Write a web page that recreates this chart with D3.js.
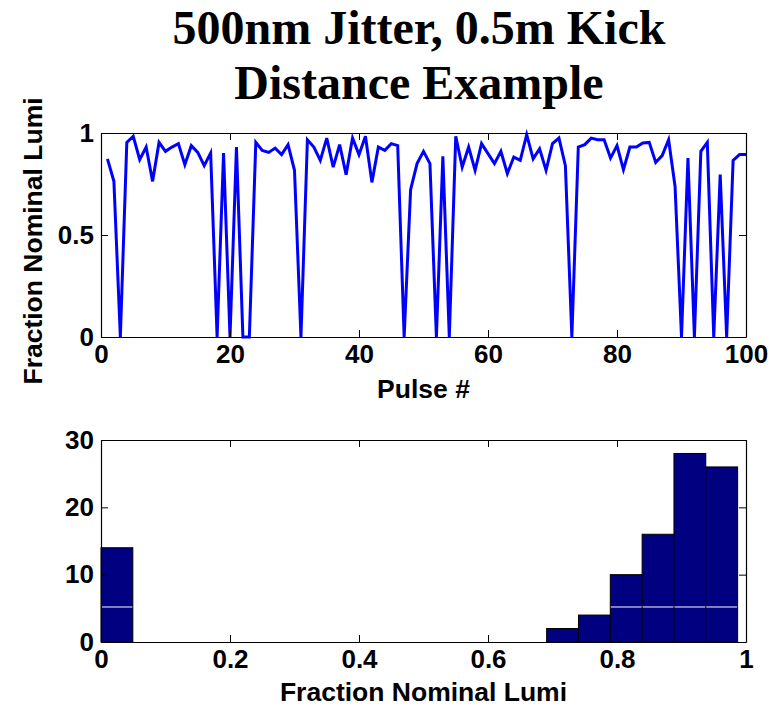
<!DOCTYPE html>
<html>
<head>
<meta charset="utf-8">
<script src="https://cdn.jsdelivr.net/npm/d3@7"></script>
<style>
  body { margin: 0; background: #fff; }
  .tick text { font-family: "Liberation Sans", Arial, sans-serif; font-weight: bold; font-size: 26px; fill: #000; }
  .axisText { font-family: "Liberation Sans", Arial, sans-serif; font-weight: bold; font-size: 26.5px; }
</style>
</head>
<body>
<div id="chart"></div>
<script>
// Pulse-by-pulse lumi (fraction of nominal)
var pulses = d3.range(1, 101);
var lumi = [
  0.873, 0.763, 0.000, 0.954, 0.984, 0.869, 0.931, 0.763, 0.954, 0.910,
  0.931, 0.948, 0.845, 0.938, 0.905, 0.840, 0.902, 0.000, 0.902, 0.000,
  0.931, 0.000, 0.000, 0.954, 0.915, 0.905, 0.926, 0.894, 0.943, 0.817,
  0.000, 0.967, 0.931, 0.866, 0.975, 0.833, 0.943, 0.796, 0.975, 0.894,
  0.984, 0.758, 0.931, 0.915, 0.948, 0.938, 0.000, 0.722, 0.850, 0.910,
  0.850, 0.000, 0.886, 0.000, 0.984, 0.833, 0.931, 0.817, 0.948, 0.899,
  0.850, 0.910, 0.801, 0.882, 0.866, 0.992, 0.873, 0.922, 0.817, 0.948,
  0.975, 0.840, 0.000, 0.931, 0.943, 0.975, 0.967, 0.967, 0.877, 0.938,
  0.820, 0.931, 0.931, 0.951, 0.954, 0.856, 0.889, 0.967, 0.739, 0.000,
  0.877, 0.000, 0.910, 0.954, 0.000, 0.796, 0.000, 0.866, 0.894, 0.894
];

// Histogram of the same values: 20 bins between 0 and the max
var histCounts = [14, 0, 0, 0, 0, 0, 0, 0, 0, 0, 0, 0, 0, 0, 2, 4, 10, 16, 28, 26];
var histRange = [0, 0.987];

var topXTicks = [0, 20, 40, 60, 80, 100];
var topYTicks = [0, 0.5, 1];
var botXTicks = [0, 0.2, 0.4, 0.6, 0.8, 1];
var botYTicks = [0, 10, 20, 30];

var titleLines = ["500nm Jitter, 0.5m Kick", "Distance Example"];

var W = 780, H = 709;
var svg = d3.select("#chart").append("svg")
    .attr("width", W)
    .attr("height", H);

var left = 101, right = 746;
var tickLen = 7;

// title
svg.append("g").selectAll("text")
    .data(titleLines)
    .join("text")
    .attr("x", 419)
    .attr("y", function (d, i) { return 44 + i * 55; })
    .attr("text-anchor", "middle")
    .style("font-family", "'Liberation Serif', 'Times New Roman', serif")
    .style("font-weight", "bold")
    .style("font-size", "48px")
    .text(function (d) { return d; });

function drawFrame(g, x, y, xTicks, yTicks, top, bottom) {
    g.append("g")
        .attr("transform", "translate(0," + bottom + ")")
        .call(d3.axisBottom(x).tickValues(xTicks).tickSize(-tickLen).tickSizeOuter(0).tickPadding(8)
            .tickFormat(function (d) { return d; }));
    g.append("g")
        .attr("transform", "translate(0," + top + ")")
        .call(d3.axisTop(x).tickValues(xTicks).tickSize(-tickLen).tickSizeOuter(0).tickFormat(""));
    g.append("g")
        .attr("transform", "translate(" + left + ",0)")
        .call(d3.axisLeft(y).tickValues(yTicks).tickSize(-tickLen).tickSizeOuter(0).tickPadding(7)
            .tickFormat(function (d) { return d; }));
    g.append("g")
        .attr("transform", "translate(" + right + ",0)")
        .call(d3.axisRight(y).tickValues(yTicks).tickSize(-tickLen).tickSizeOuter(0).tickFormat(""));
    g.selectAll(".domain").attr("stroke", "#000").attr("stroke-width", 1.2);
    g.selectAll(".tick line").attr("stroke", "#000").attr("stroke-width", 1);
}

// ---- top panel: lumi vs pulse ----
var top1 = 133, bot1 = 337;
var x1 = d3.scaleLinear().domain([0, 100]).range([left, right]);
var y1 = d3.scaleLinear().domain([0, 1]).range([bot1, top1]);

var g1 = svg.append("g");
g1.append("path")
    .datum(pulses)
    .attr("fill", "none")
    .attr("stroke", "#0000ff")
    .attr("stroke-width", 3)
    .attr("stroke-linejoin", "miter")
    .attr("d", d3.line()
        .x(function (d) { return x1(d); })
        .y(function (d, i) { return y1(lumi[i]); }));
drawFrame(g1, x1, y1, topXTicks, topYTicks, top1, bot1);

g1.append("text")
    .attr("class", "axisText")
    .attr("x", (left + right) / 2)
    .attr("y", 398)
    .attr("text-anchor", "middle")
    .text("Pulse #");
g1.append("text")
    .attr("class", "axisText")
    .attr("transform", "translate(42," + ((top1 + bot1) / 2 + 6) + ") rotate(-90)")
    .attr("text-anchor", "middle")
    .text("Fraction Nominal Lumi");

// ---- bottom panel: histogram ----
var top2 = 440, bot2 = 642;
var x2 = d3.scaleLinear().domain([0, 1]).range([left, right]);
var y2 = d3.scaleLinear().domain([0, 30]).range([bot2, top2]);
var binW = (histRange[1] - histRange[0]) / histCounts.length;
var bins = histCounts.map(function (c, i) {
    return { x0: histRange[0] + i * binW, x1: histRange[0] + (i + 1) * binW, count: c };
});

var g2 = svg.append("g");
g2.selectAll("rect")
    .data(bins)
    .join("rect")
    .attr("x", function (d) { return x2(d.x0); })
    .attr("width", function (d) { return x2(d.x1) - x2(d.x0); })
    .attr("y", function (d) { return y2(d.count); })
    .attr("height", function (d) { return y2(0) - y2(d.count); })
    .attr("fill", "#000080")
    .attr("stroke", "#000")
    .attr("stroke-width", 1);

// faint white rendering seam visible across the taller bars
g2.selectAll("line.seam")
    .data(bins.filter(function (d) { return d.count > 5.2; }))
    .join("line")
    .attr("class", "seam")
    .attr("x1", function (d) { return x2(d.x0) + 0.5; })
    .attr("x2", function (d) { return x2(d.x1) - 0.5; })
    .attr("y1", y2(5.2))
    .attr("y2", y2(5.2))
    .attr("stroke", "#fff")
    .attr("stroke-width", 1);

drawFrame(g2, x2, y2, botXTicks, botYTicks, top2, bot2);

g2.append("text")
    .attr("class", "axisText")
    .attr("x", (left + right) / 2)
    .attr("y", 701)
    .attr("text-anchor", "middle")
    .text("Fraction Nominal Lumi");
</script>
</body>
</html>
